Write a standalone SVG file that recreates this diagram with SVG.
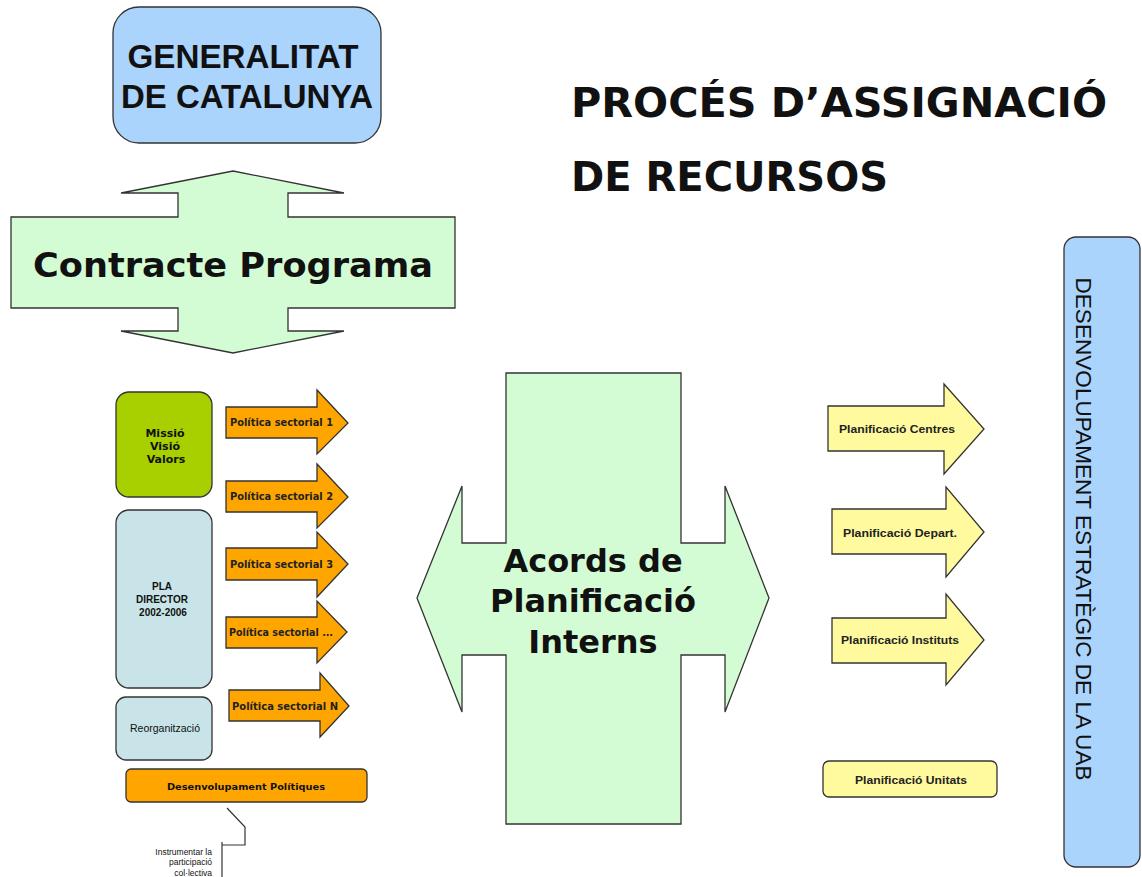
<svg xmlns="http://www.w3.org/2000/svg" width="1142" height="877" viewBox="0 0 1142 877">
<style>
.bg{fill:#ffffff}
.sh{stroke:#333333;stroke-width:1.3}
.blue{fill:#aad4fc}
.lgreen{fill:#d4fcd4}
.olive{fill:#a8d000}
.pale{fill:#c8e4e8}
.orange{fill:#ffa500}
.yellow{fill:#fffa9e}
.verd{font-family:"DejaVu Sans",Verdana,sans-serif;font-weight:bold;fill:#111}
.ari{font-family:"Liberation Sans",Arial,sans-serif;fill:#111}
.b{font-weight:bold}
.sm{font-family:"DejaVu Sans",Verdana,sans-serif;font-weight:bold;font-size:10.5px;fill:#222}
.pl{font-family:"Liberation Sans",Arial,sans-serif;font-weight:bold;font-size:11.5px;fill:#222}
.line{fill:none;stroke:#333;stroke-width:1.2}
</style>
<rect class="bg" x="0" y="0" width="1142" height="877"/>

<g id="title">
<text class="verd" x="571" y="117" font-size="41" textLength="536" lengthAdjust="spacingAndGlyphs">PROCÉS D’ASSIGNACIÓ</text>
<text class="verd" x="571" y="191" font-size="41" textLength="317" lengthAdjust="spacingAndGlyphs">DE RECURSOS</text>
</g>

<g id="generalitat">
<rect class="sh blue" x="113" y="7" width="268" height="136" rx="26"/>
<text class="ari b" x="243" y="68" font-size="33" text-anchor="middle" textLength="231" lengthAdjust="spacingAndGlyphs">GENERALITAT</text>
<text class="ari b" x="247" y="108" font-size="33" text-anchor="middle" textLength="252" lengthAdjust="spacingAndGlyphs">DE CATALUNYA</text>
</g>

<g id="contracte">
<polygon class="sh lgreen" points="233,171 344,193 288,193 288,217 455,217 455,308 288,308 288,331 344,331 233,353 121,331 178,331 178,308 11,308 11,217 178,217 178,193 121,193"/>
<text class="verd" x="233" y="277" font-size="34" text-anchor="middle" textLength="400" lengthAdjust="spacingAndGlyphs">Contracte Programa</text>
</g>

<g id="missio">
<rect class="sh olive" x="116" y="392" width="96" height="105" rx="13"/>
<text class="verd" font-size="11" text-anchor="middle" fill="#222"><tspan x="165" y="437">Missió</tspan><tspan x="165" y="450">Visió</tspan><tspan x="166" y="463">Valors</tspan></text>
</g>

<g id="pla">
<rect class="sh pale" x="116" y="510" width="96" height="178" rx="13"/>
<text class="ari b" font-size="10" text-anchor="middle" fill="#222"><tspan x="162" y="590">PLA</tspan><tspan x="162" y="603">DIRECTOR</tspan><tspan x="163" y="616">2002-2006</tspan></text>
</g>

<g id="reorg">
<rect class="sh pale" x="116" y="697" width="96" height="63" rx="10"/>
<text class="ari" x="165" y="732" font-size="10.5" text-anchor="middle" fill="#222">Reorganització</text>
</g>

<g id="ps1">
<polygon class="sh orange" points="226,407 317,407 317,390 348,423 317,454 317,438 226,438"/>
<text class="sm" x="230" y="426" textLength="103" lengthAdjust="spacingAndGlyphs">Política sectorial 1</text>
</g>
<g id="ps2">
<polygon class="sh orange" points="226,481 317,481 317,464 348,497 317,528 317,512 226,512"/>
<text class="sm" x="230" y="500" textLength="103" lengthAdjust="spacingAndGlyphs">Política sectorial 2</text>
</g>
<g id="ps3">
<polygon class="sh orange" points="226,548 317,548 317,532 348,564 317,597 317,580 226,580"/>
<text class="sm" x="230" y="568" textLength="103" lengthAdjust="spacingAndGlyphs">Política sectorial 3</text>
</g>
<g id="ps4">
<polygon class="sh orange" points="226,617 317,617 317,601 347,632 317,663 317,648 226,648"/>
<text class="sm" x="229" y="636" textLength="104" lengthAdjust="spacingAndGlyphs">Política sectorial ...</text>
</g>
<g id="psN">
<polygon class="sh orange" points="229,690 320,690 320,673 349,706 320,737 320,721 229,721"/>
<text class="sm" x="232" y="710" textLength="106" lengthAdjust="spacingAndGlyphs">Política sectorial  N</text>
</g>

<g id="desenv">
<rect class="sh orange" x="126" y="769" width="241" height="33" rx="5"/>
<text class="verd" x="246" y="790" font-size="9.5" text-anchor="middle" fill="#222" textLength="158" lengthAdjust="spacingAndGlyphs">Desenvolupament  Polítiques</text>
</g>

<g id="callout">
<text class="ari" font-size="8.5" text-anchor="end" fill="#222"><tspan x="212" y="855">Instrumentar la</tspan><tspan x="212" y="865">participació</tspan><tspan x="212" y="876">col·lectiva</tspan></text>
</g>

<g id="acords">
<polygon class="sh lgreen" stroke-width="1" points="506,373 681,373 681,543 725,543 725,486 769,598 725,712 725,655 681,655 681,824 506,824 506,655 462,655 462,712 417,598 462,486 462,543 506,543"/>
<text class="verd" font-size="32" text-anchor="middle"><tspan x="593" y="572">Acords de</tspan><tspan x="593" y="612">Planificació</tspan><tspan x="593" y="653">Interns</tspan></text>
</g>

<g id="centres">
<polygon class="sh yellow" points="828,406 944,406 944,384 984,429 944,474 944,451 828,451"/>
<text class="pl" x="839" y="433" textLength="116" lengthAdjust="spacingAndGlyphs">Planificació Centres</text>
</g>
<g id="depart">
<polygon class="sh yellow" points="832,509 946,509 946,487 984,532 946,577 946,554 832,554"/>
<text class="pl" x="843" y="537" textLength="114" lengthAdjust="spacingAndGlyphs">Planificació Depart.</text>
</g>
<g id="instituts">
<polygon class="sh yellow" points="832,618 946,618 946,594 984,640 946,685 946,663 832,663"/>
<text class="pl" x="841" y="644" textLength="118" lengthAdjust="spacingAndGlyphs">Planificació Instituts</text>
</g>
<g id="unitats">
<rect class="sh yellow" x="823" y="761" width="174" height="36" rx="6"/>
<text class="pl" x="911" y="784" text-anchor="middle" textLength="112" lengthAdjust="spacingAndGlyphs">Planificació Unitats</text>
</g>

<g id="uab">
<rect class="sh blue" x="1064" y="237" width="76" height="630" rx="12"/>
<text class="ari" x="0" y="0" font-size="22" text-anchor="middle" transform="translate(1076,529) rotate(90)" textLength="503" lengthAdjust="spacingAndGlyphs">DESENVOLUPAMENT ESTRATÈGIC DE LA UAB</text>
</g>

<g id="connectors">
<polyline class="line" points="227,808 245,827 245,845 222,845"/>
<line class="line" x1="222" y1="842" x2="222" y2="877"/>
</g>
</svg>
